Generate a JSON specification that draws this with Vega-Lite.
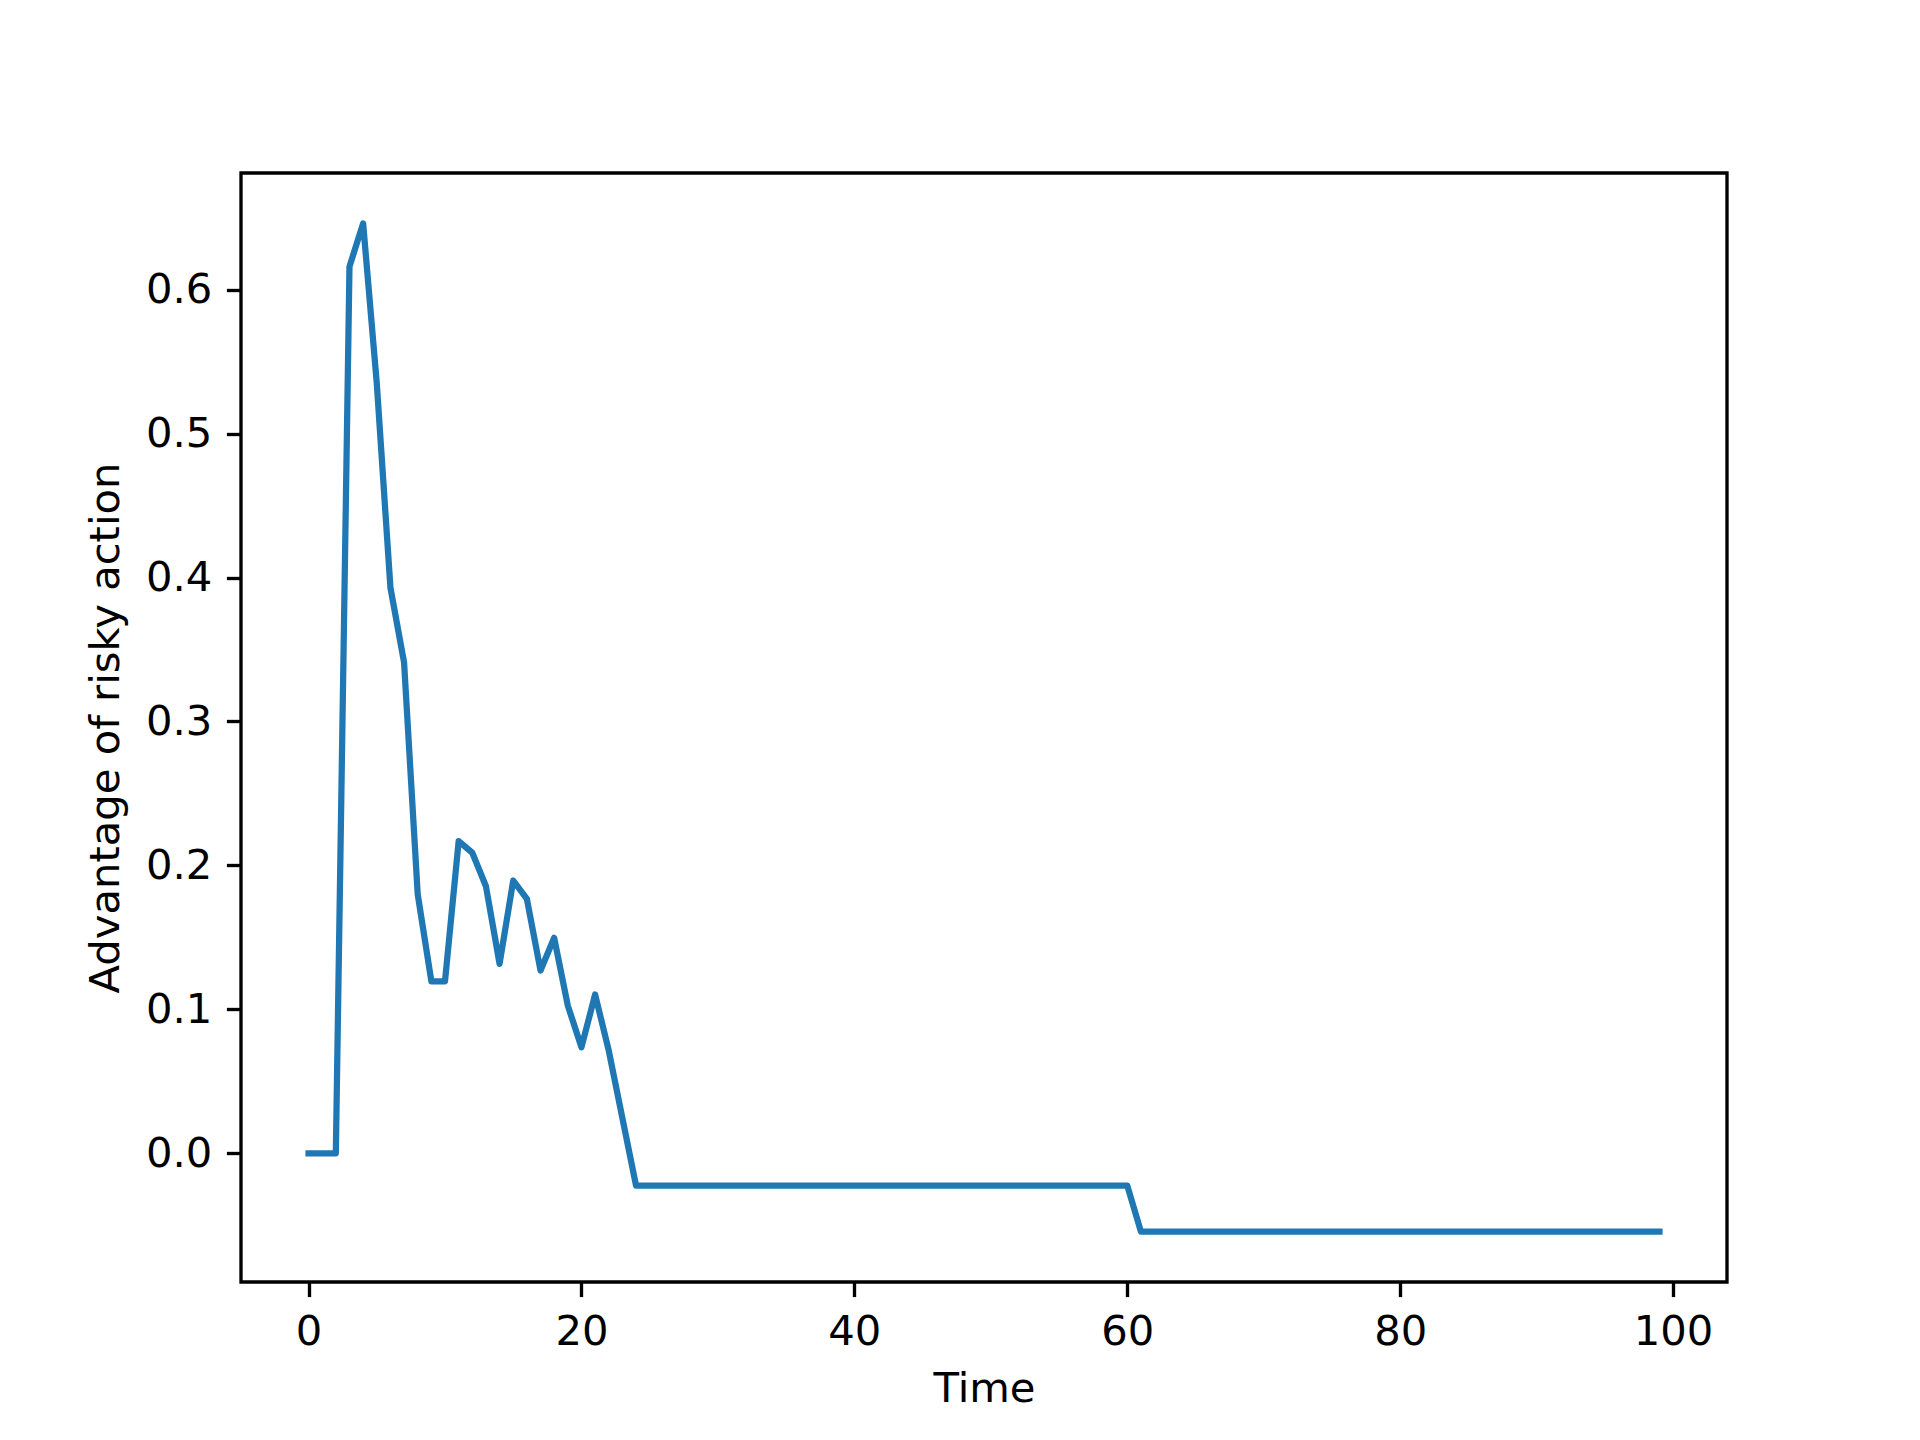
{
  "$schema": "https://vega.github.io/schema/vega-lite/v6.json",
  "autosize": {"type": "none"},
  "width": 1486,
  "height": 1109,
  "padding": {"left": 241, "top": 173, "right": 193, "bottom": 158},
  "background": "white",
  "config": {
    "view": {"stroke": "black", "strokeWidth": 3.33},
    "font": "DejaVu Sans",
    "axis": {
      "domain": false,
      "grid": false,
      "tickColor": "black",
      "tickWidth": 3.33,
      "tickSize": 14.6,
      "labelFont": "DejaVu Sans",
      "labelFontSize": 41.7,
      "labelColor": "black",
      "labelPadding": 14.6,
      "titleFont": "DejaVu Sans",
      "titleFontSize": 41.7,
      "titleFontWeight": "normal",
      "titleColor": "black"
    }
  },
  "data": {
    "values": [
      {"t": 0, "v": 0.0}, {"t": 1, "v": 0.0}, {"t": 2, "v": 0.0},
      {"t": 3, "v": 0.616}, {"t": 4, "v": 0.646}, {"t": 5, "v": 0.535},
      {"t": 6, "v": 0.393}, {"t": 7, "v": 0.341}, {"t": 8, "v": 0.180},
      {"t": 9, "v": 0.1195}, {"t": 10, "v": 0.1195}, {"t": 11, "v": 0.2168},
      {"t": 12, "v": 0.2088}, {"t": 13, "v": 0.1855}, {"t": 14, "v": 0.1316},
      {"t": 15, "v": 0.1895}, {"t": 16, "v": 0.1768}, {"t": 17, "v": 0.127},
      {"t": 18, "v": 0.1497}, {"t": 19, "v": 0.1026}, {"t": 20, "v": 0.0737},
      {"t": 21, "v": 0.1103}, {"t": 22, "v": 0.0714}, {"t": 23, "v": 0.0245},
      {"t": 24, "v": -0.0224}, {"t": 25, "v": -0.0224}, {"t": 26, "v": -0.0224},
      {"t": 27, "v": -0.0224}, {"t": 28, "v": -0.0224}, {"t": 29, "v": -0.0224},
      {"t": 30, "v": -0.0224}, {"t": 31, "v": -0.0224}, {"t": 32, "v": -0.0224},
      {"t": 33, "v": -0.0224}, {"t": 34, "v": -0.0224}, {"t": 35, "v": -0.0224},
      {"t": 36, "v": -0.0224}, {"t": 37, "v": -0.0224}, {"t": 38, "v": -0.0224},
      {"t": 39, "v": -0.0224}, {"t": 40, "v": -0.0224}, {"t": 41, "v": -0.0224},
      {"t": 42, "v": -0.0224}, {"t": 43, "v": -0.0224}, {"t": 44, "v": -0.0224},
      {"t": 45, "v": -0.0224}, {"t": 46, "v": -0.0224}, {"t": 47, "v": -0.0224},
      {"t": 48, "v": -0.0224}, {"t": 49, "v": -0.0224}, {"t": 50, "v": -0.0224},
      {"t": 51, "v": -0.0224}, {"t": 52, "v": -0.0224}, {"t": 53, "v": -0.0224},
      {"t": 54, "v": -0.0224}, {"t": 55, "v": -0.0224}, {"t": 56, "v": -0.0224},
      {"t": 57, "v": -0.0224}, {"t": 58, "v": -0.0224}, {"t": 59, "v": -0.0224},
      {"t": 60, "v": -0.0224}, {"t": 61, "v": -0.0544}, {"t": 62, "v": -0.0544},
      {"t": 63, "v": -0.0544}, {"t": 64, "v": -0.0544}, {"t": 65, "v": -0.0544},
      {"t": 66, "v": -0.0544}, {"t": 67, "v": -0.0544}, {"t": 68, "v": -0.0544},
      {"t": 69, "v": -0.0544}, {"t": 70, "v": -0.0544}, {"t": 71, "v": -0.0544},
      {"t": 72, "v": -0.0544}, {"t": 73, "v": -0.0544}, {"t": 74, "v": -0.0544},
      {"t": 75, "v": -0.0544}, {"t": 76, "v": -0.0544}, {"t": 77, "v": -0.0544},
      {"t": 78, "v": -0.0544}, {"t": 79, "v": -0.0544}, {"t": 80, "v": -0.0544},
      {"t": 81, "v": -0.0544}, {"t": 82, "v": -0.0544}, {"t": 83, "v": -0.0544},
      {"t": 84, "v": -0.0544}, {"t": 85, "v": -0.0544}, {"t": 86, "v": -0.0544},
      {"t": 87, "v": -0.0544}, {"t": 88, "v": -0.0544}, {"t": 89, "v": -0.0544},
      {"t": 90, "v": -0.0544}, {"t": 91, "v": -0.0544}, {"t": 92, "v": -0.0544},
      {"t": 93, "v": -0.0544}, {"t": 94, "v": -0.0544}, {"t": 95, "v": -0.0544},
      {"t": 96, "v": -0.0544}, {"t": 97, "v": -0.0544}, {"t": 98, "v": -0.0544},
      {"t": 99, "v": -0.0544}
    ]
  },
  "mark": {"type": "line", "color": "#1f77b4", "strokeWidth": 6.25, "strokeJoin": "round", "strokeCap": "square"},
  "encoding": {
    "x": {
      "field": "t", "type": "quantitative",
      "scale": {"domain": [-4.95, 103.95], "nice": false, "zero": false},
      "axis": {"title": "Time", "values": [0, 20, 40, 60, 80, 100], "format": "d", "titlePadding": 16}
    },
    "y": {
      "field": "v", "type": "quantitative",
      "scale": {"domain": [-0.0894, 0.681], "nice": false, "zero": false},
      "axis": {"title": "Advantage of risky action", "values": [0, 0.1, 0.2, 0.3, 0.4, 0.5, 0.6], "format": ".1f", "titlePadding": 18}
    }
  }
}
